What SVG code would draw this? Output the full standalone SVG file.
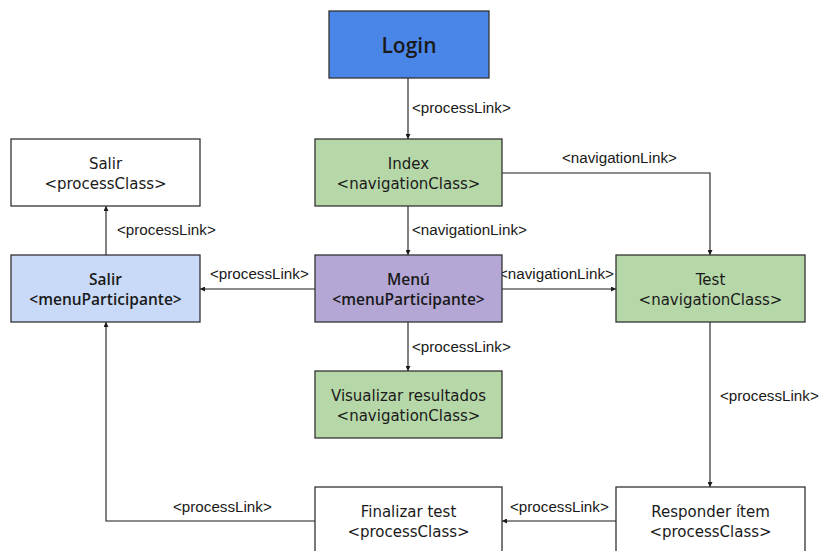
<svg xmlns="http://www.w3.org/2000/svg" width="819" height="551" viewBox="0 0 819 551">
  <style>
    .box { stroke: #333333; stroke-width: 1.3; }
    .node-text { font-family: "DejaVu Sans", "Open Sans", sans-serif; font-size: 15px; fill: #1a1a1a; text-anchor: middle; }
    .bold { font-family: "Open Sans", "DejaVu Sans", sans-serif; font-weight: 600; font-size: 15.5px; }
    .edge { fill: none; stroke: #1a1a1a; stroke-width: 1.1; }
    .edge-label { font-family: "Liberation Sans", Arial, sans-serif; font-size: 15.2px; fill: #1a1a1a; }
  </style>
  <defs>
    <marker id="arrow" viewBox="0 0 10 10" refX="10" refY="5" markerWidth="5" markerHeight="5" orient="auto" markerUnits="userSpaceOnUse">
      <path d="M0,0 L10,5 L0,10 z" fill="#1a1a1a"/>
    </marker>
  </defs>
  <rect width="819" height="551" fill="#ffffff"/>

  <g id="connectors">
    <!-- Login -> Index -->
    <path class="edge" d="M408,78 L408,139" marker-end="url(#arrow)"/>
    <text class="edge-label" x="412" y="113">&lt;processLink&gt;</text>
    <!-- Index -> Test -->
    <path class="edge" d="M502,173 L710,173 L710,255" marker-end="url(#arrow)"/>
    <text class="edge-label" x="562" y="163">&lt;navigationLink&gt;</text>
    <!-- Index -> Menu -->
    <path class="edge" d="M408,206 L408,255" marker-end="url(#arrow)"/>
    <text class="edge-label" x="412" y="235">&lt;navigationLink&gt;</text>
    <!-- Menu -> Salir (menuParticipante) -->
    <path class="edge" d="M315,289 L200,289" marker-end="url(#arrow)"/>
    <text class="edge-label" x="210" y="279">&lt;processLink&gt;</text>
    <!-- Salir (menuParticipante) -> Salir (processClass) -->
    <path class="edge" d="M106,255 L106,206" marker-end="url(#arrow)"/>
    <text class="edge-label" x="117" y="235">&lt;processLink&gt;</text>
    <!-- Menu -> Test -->
    <path class="edge" d="M502,289 L616,289" marker-end="url(#arrow)"/>
    <text class="edge-label" x="499" y="279">&lt;navigationLink&gt;</text>
    <!-- Menu -> Visualizar resultados -->
    <path class="edge" d="M408,322 L408,371" marker-end="url(#arrow)"/>
    <text class="edge-label" x="412" y="352">&lt;processLink&gt;</text>
    <!-- Test -> Responder item -->
    <path class="edge" d="M710,322 L710,487" marker-end="url(#arrow)"/>
    <text class="edge-label" x="720" y="401">&lt;processLink&gt;</text>
    <!-- Responder item -> Finalizar test -->
    <path class="edge" d="M616,521 L502,521" marker-end="url(#arrow)"/>
    <text class="edge-label" x="510" y="512">&lt;processLink&gt;</text>
    <!-- Finalizar test -> Salir (menuParticipante) -->
    <path class="edge" d="M315,521 L106,521 L106,322" marker-end="url(#arrow)"/>
    <text class="edge-label" x="173" y="512">&lt;processLink&gt;</text>
  </g>

  <g id="login">
    <rect class="box" x="329" y="11" width="160" height="67" fill="#4a86e8"/>
    <text class="node-text bold" x="409" y="53" style="font-size:21px">Login</text>
  </g>

  <g id="salir-process">
    <rect class="box" x="11" y="139" width="189" height="67" fill="#ffffff"/>
    <text class="node-text" x="105.5" y="169">Salir</text>
    <text class="node-text" x="105.5" y="189">&lt;processClass&gt;</text>
  </g>

  <g id="index">
    <rect class="box" x="315" y="139" width="187" height="67" fill="#b6d7a8"/>
    <text class="node-text" x="408.5" y="169">Index</text>
    <text class="node-text" x="408.5" y="189">&lt;navigationClass&gt;</text>
  </g>

  <g id="salir-menu">
    <rect class="box" x="11" y="255" width="189" height="67" fill="#c9daf8"/>
    <text class="node-text bold" x="105.5" y="285">Salir</text>
    <text class="node-text bold" x="105.5" y="305">&lt;menuParticipante&gt;</text>
  </g>

  <g id="menu">
    <rect class="box" x="315" y="255" width="187" height="67" fill="#b4a7d6"/>
    <text class="node-text bold" x="408.5" y="285">Menú</text>
    <text class="node-text bold" x="408.5" y="305">&lt;menuParticipante&gt;</text>
  </g>

  <g id="test">
    <rect class="box" x="616" y="255" width="189" height="67" fill="#b6d7a8"/>
    <text class="node-text" x="710.5" y="285">Test</text>
    <text class="node-text" x="710.5" y="305">&lt;navigationClass&gt;</text>
  </g>

  <g id="visualizar">
    <rect class="box" x="315" y="371" width="187" height="67" fill="#b6d7a8"/>
    <text class="node-text" x="408.5" y="401">Visualizar resultados</text>
    <text class="node-text" x="408.5" y="421">&lt;navigationClass&gt;</text>
  </g>

  <g id="finalizar">
    <rect class="box" x="315" y="487" width="187" height="67" fill="#ffffff"/>
    <text class="node-text" x="408.5" y="517">Finalizar test</text>
    <text class="node-text" x="408.5" y="537">&lt;processClass&gt;</text>
  </g>

  <g id="responder">
    <rect class="box" x="616" y="487" width="189" height="67" fill="#ffffff"/>
    <text class="node-text" x="710.5" y="517">Responder ítem</text>
    <text class="node-text" x="710.5" y="537">&lt;processClass&gt;</text>
  </g>
</svg>
